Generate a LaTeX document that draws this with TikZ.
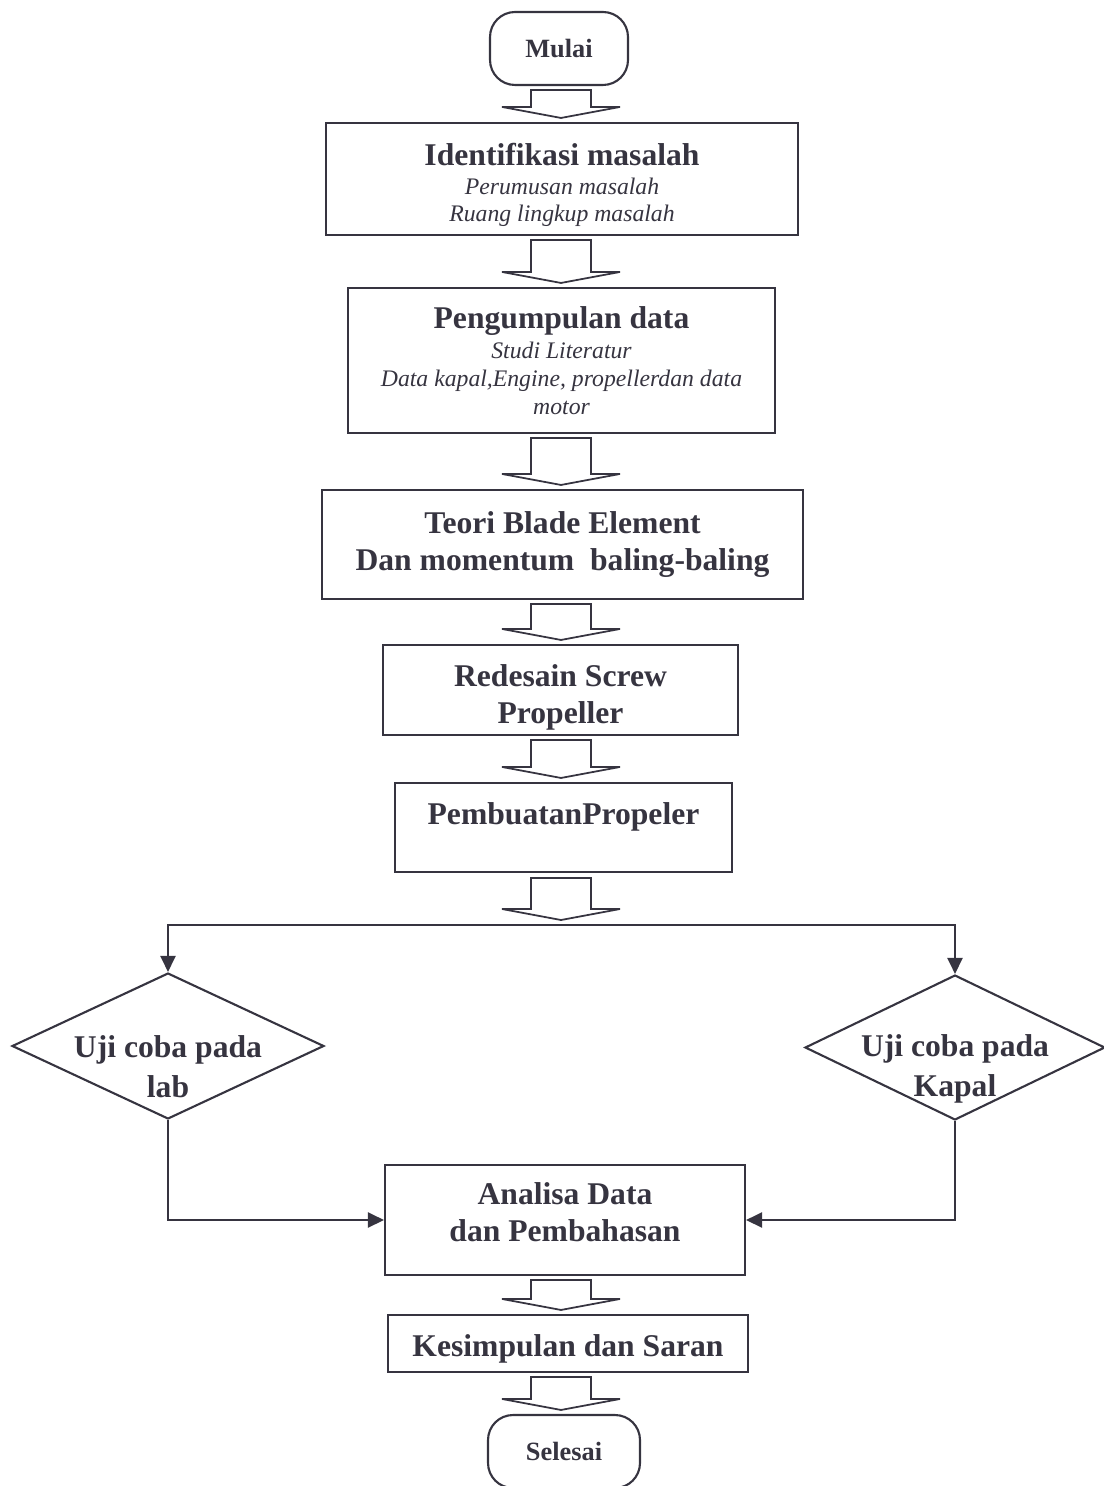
\documentclass[tikz,border=0pt]{standalone}
\usepackage{fontspec}
\setmainfont{Liberation Serif}
\usetikzlibrary{shapes.geometric, arrows.meta, calc}

\definecolor{ink}{RGB}{54,52,64}
\newcommand{\subline}[1]{{\fontsize{13.5}{15.4}\selectfont\mdseries\itshape #1}}

\begin{document}
\begin{tikzpicture}[x = 0.02cm, y = -0.02cm, color = ink, line width = 1.2pt,
	box/.style = {draw, rectangle, inner sep = 0pt, align = center, font = \fontsize{18}{21}\selectfont\bfseries},
	terminal/.style = {draw, rectangle, rounded corners = 0.5cm, inner sep = 0pt, font = \fontsize{15}{18}\selectfont\bfseries},
	decision/.style = {draw, diamond, inner sep = 0pt},
	dtext/.style = {align = center, font = \fontsize{18}{22.8}\selectfont\bfseries, yshift = -12pt},
	hollow/.style = {line width = 1pt, line join = miter},
	link/.style = {-{Triangle[length = 0.32cm, width = 0.3cm]}}]

\useasboundingbox (0, 0) rectangle (1104, 1486);

\coordinate (axis) at (561, 0);
\coordinate (split) at (561, 925);

\node [terminal, minimum width = 2.76cm, minimum height = 1.46cm] (mulai) at (559, 48.5) {Mulai};
\node [box, minimum width = 9.44cm, minimum height = 2.24cm] (ident) at (562, 179)
	{Identifikasi masalah\rule{0pt}{19.7pt}\\[-4.5pt]\subline{Perumusan masalah}\\[-5.6pt]\subline{Ruang lingkup masalah}};
\node [box, minimum width = 8.54cm, minimum height = 2.9cm] (kumpul) at (561.5, 360.5)
	{Pengumpulan data\\[-3.8pt]\subline{Studi Literatur}\\[-5pt]\subline{Data kapal,Engine, propellerdan data}\\[-5.6pt]\subline{motor}};
\node [box, minimum width = 9.62cm, minimum height = 2.18cm] (teori) at (562.5, 544.5) {Teori Blade Element\\Dan momentum\ \ baling-baling};
\node [box, minimum width = 7.1cm, minimum height = 1.8cm] (redesain) at (560.5, 690) {Redesain Screw\rule{0pt}{21.3pt}\\Propeller};
\node [box, minimum width = 6.74cm, minimum height = 1.78cm, text depth = 0.55cm] (buat) at (563.5, 827.5) {PembuatanPropeler};

\node [decision, minimum width = 6.24cm, minimum height = 2.92cm, label = {[dtext]center:Uji coba pada\\lab}] (lab) at (168, 1046) {};
\node [decision, minimum width = 6.0cm, minimum height = 2.9cm, label = {[dtext]center:Uji coba pada\\Kapal}] (kapal) at (955, 1047.5) {};

\node [box, minimum width = 7.2cm, minimum height = 2.2cm] (anal) at (565, 1220) {Analisa Data\\dan Pembahasan\rule[-9.6pt]{0pt}{9.6pt}};
\node [box, minimum width = 7.2cm, minimum height = 1.14cm, text height = 19pt] (kesimp) at (568, 1343.5) {Kesimpulan dan Saran};
\node [terminal, minimum width = 3.04cm, minimum height = 1.46cm] (selesai) at (564, 1451.5) {Selesai};

% hollow block arrows
\foreach \a/\b in {mulai/ident, ident/kumpul, kumpul/teori, teori/redesain, redesain/buat, anal/kesimp, kesimp/selesai}
{
	\draw [hollow] ($(\a.south -| axis) + (-30, 4)$) -- ($(\b.north -| axis) + (-30, -15)$) -- ++ (-29, 0) -- ($(\b.north -| axis) + (0, -4)$)
		-- ++ (59, -11) -- ++ (-29, 0) -- ($(\a.south -| axis) + (30, 4)$) -- cycle;
}
\draw [hollow] ($(buat.south -| axis) + (-30, 5)$) -- ($(split) + (-30, -16)$) -- ++ (-29, 0) -- ($(split) + (0, -5)$)
	-- ++ (59, -11) -- ++ (-29, 0) -- ($(buat.south -| axis) + (30, 5)$) -- cycle;

% connectors
\draw [link] (split) -| (lab.north);
\draw [link] (split) -| (kapal.north);
\draw [link] (lab.south) |- (anal.west);
\draw [link] (kapal.south) |- (anal.east);

\end{tikzpicture}
\end{document}
